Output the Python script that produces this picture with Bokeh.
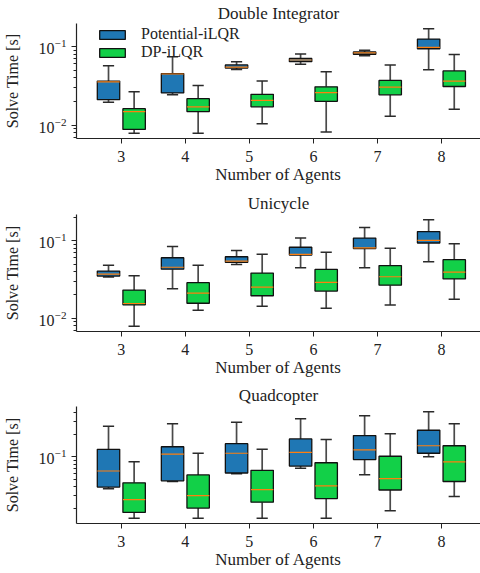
import math
from bokeh.plotting import figure
from bokeh.layouts import column
from bokeh.models import ColumnDataSource, Range1d, FixedTicker, LogTickFormatter, Legend, LegendItem
from bokeh.transform import dodge
from bokeh.embed import file_html
from bokeh.resources import INLINE

# ---------------- data ----------------
agents = [3, 4, 5, 6, 7, 8]
agent_labels = ["3", "4", "5", "6", "7", "8"]
series_names = ["Potential-iLQR", "DP-iLQR"]
panel_titles = ["Double Integrator", "Unicycle", "Quadcopter"]
y_major_ticks = [0.01, 0.1]

# Double Integrator
di_pot_lo = [0.0195, 0.0243, 0.0511, 0.0595, 0.0760, 0.0507]
di_pot_q1 = [0.0211, 0.0257, 0.0531, 0.0641, 0.0797, 0.0936]
di_pot_med = [0.0355, 0.0447, 0.0547, 0.0673, 0.0828, 0.0972]
di_pot_q3 = [0.0364, 0.0453, 0.0583, 0.0705, 0.0852, 0.1240]
di_pot_hi = [0.0568, 0.0740, 0.0641, 0.0805, 0.0893, 0.1680]
di_dp_lo = [0.0079, 0.0079, 0.0104, 0.0082, 0.0130, 0.0159]
di_dp_q1 = [0.00885, 0.0149, 0.0171, 0.0201, 0.0243, 0.0310]
di_dp_med = [0.0149, 0.0171, 0.0207, 0.0259, 0.0305, 0.0364]
di_dp_q3 = [0.0162, 0.0217, 0.0247, 0.0307, 0.0371, 0.0489]
di_dp_hi = [0.0267, 0.0319, 0.0364, 0.0479, 0.0583, 0.0790]

# Unicycle
uni_pot_lo = [0.0340, 0.0240, 0.0492, 0.0447, 0.0447, 0.0537]
uni_pot_q1 = [0.0350, 0.0429, 0.0527, 0.0652, 0.0792, 0.0934]
uni_pot_med = [0.0371, 0.0455, 0.0547, 0.0665, 0.0807, 0.1010]
uni_pot_q3 = [0.0406, 0.0603, 0.0621, 0.0824, 0.1080, 0.1310]
uni_pot_hi = [0.0483, 0.0839, 0.0747, 0.1080, 0.1476, 0.1860]
uni_dp_lo = [0.0079, 0.0127, 0.0143, 0.0135, 0.0148, 0.0176]
uni_dp_q1 = [0.0149, 0.0156, 0.0195, 0.0224, 0.0267, 0.0321]
uni_dp_med = [0.0155, 0.0211, 0.0252, 0.0291, 0.0343, 0.0393]
uni_dp_q3 = [0.0231, 0.0288, 0.0382, 0.0426, 0.0478, 0.0569]
uni_dp_hi = [0.0354, 0.0483, 0.0670, 0.0712, 0.0800, 0.0916]

# Quadcopter
quad_pot_lo = [0.0370, 0.0464, 0.0593, 0.0699, 0.0575, 0.1000]
quad_pot_q1 = [0.0390, 0.0474, 0.0605, 0.0750, 0.0920, 0.1120]
quad_pot_med = [0.0644, 0.1086, 0.1120, 0.1150, 0.1240, 0.1415]
quad_pot_q3 = [0.1265, 0.1370, 0.1510, 0.1750, 0.1940, 0.2290]
quad_pot_hi = [0.2590, 0.2810, 0.2930, 0.3280, 0.3600, 0.4070]
quad_dp_lo = [0.0148, 0.0148, 0.0148, 0.0148, 0.0187, 0.0290]
quad_dp_q1 = [0.0177, 0.0203, 0.0244, 0.0273, 0.0356, 0.0464]
quad_dp_med = [0.0264, 0.0299, 0.0360, 0.0406, 0.0509, 0.0858]
quad_dp_q3 = [0.0446, 0.0570, 0.0658, 0.0832, 0.1020, 0.1415]
quad_dp_hi = [0.0858, 0.1120, 0.1265, 0.1720, 0.2050, 0.2810]

panels = [
    (panel_titles[0], [(di_pot_lo, di_pot_q1, di_pot_med, di_pot_q3, di_pot_hi),
                       (di_dp_lo, di_dp_q1, di_dp_med, di_dp_q3, di_dp_hi)]),
    (panel_titles[1], [(uni_pot_lo, uni_pot_q1, uni_pot_med, uni_pot_q3, uni_pot_hi),
                       (uni_dp_lo, uni_dp_q1, uni_dp_med, uni_dp_q3, uni_dp_hi)]),
    (panel_titles[2], [(quad_pot_lo, quad_pot_q1, quad_pot_med, quad_pot_q3, quad_pot_hi),
                       (quad_dp_lo, quad_dp_q1, quad_dp_med, quad_dp_q3, quad_dp_hi)]),
]

# ---------------- style ----------------
FONT = "Liberation Serif"
COLORS = ["#1f77b4", "#12d048"]
OFFSETS = [-0.2, 0.2]
BOX_W = 0.35
CAP_W = BOX_W / 2
tops = [23, 26, 26]
title_standoff = [1, 4, 4]
frame_h = [115, 117, 117]
bottoms = [50, 49, 49]
minor = [k * 10.0 ** e for e in (-3, -2, -1, 0) for k in range(2, 10)]


def make_panel(idx):
    title, series = panels[idx]
    allv = [v for s in series for arr in s for v in arr]
    llo, lhi = math.log10(min(allv)), math.log10(max(allv))
    m = 0.05 * (lhi - llo)
    p = figure(width=480, height=tops[idx] + frame_h[idx] + bottoms[idx],
               x_range=Range1d(2.30, 8.61),
               y_range=Range1d(10 ** (llo - m), 10 ** (lhi + m)),
               y_axis_type="log", output_backend="svg", toolbar_location=None,
               min_border_left=74, min_border_right=0, min_border_top=tops[idx],
               min_border_bottom=bottoms[idx])
    p.outline_line_color = None
    p.grid.visible = False
    p.title.text = title
    p.title.text_font = FONT
    p.title.text_font_size = "17px"
    p.title.text_font_style = "normal"
    p.title.align = "center"
    p.title.text_color = "#222222"
    p.title.standoff = title_standoff[idx]
    p.title.offset = 2

    renderers = []
    for si, (lo, q1, med, q3, hi) in enumerate(series):
        src = ColumnDataSource(dict(x=agents, lo=lo, q1=q1, med=med, q3=q3, hi=hi))
        off = OFFSETS[si]
        xc = dodge("x", off, range=p.x_range)
        p.segment(x0=xc, y0="q3", x1=xc, y1="hi", source=src, line_color="#4a4a4a", line_width=1.7)
        p.segment(x0=xc, y0="q1", x1=xc, y1="lo", source=src, line_color="#4a4a4a", line_width=1.7)
        p.segment(x0=dodge("x", off - CAP_W / 2, range=p.x_range), y0="hi",
                  x1=dodge("x", off + CAP_W / 2, range=p.x_range), y1="hi",
                  source=src, line_color="#2a2a2a", line_width=1.5)
        p.segment(x0=dodge("x", off - CAP_W / 2, range=p.x_range), y0="lo",
                  x1=dodge("x", off + CAP_W / 2, range=p.x_range), y1="lo",
                  source=src, line_color="#2a2a2a", line_width=1.5)
        r = p.vbar(x=xc, width=BOX_W, bottom="q1", top="q3", source=src,
                   fill_color=COLORS[si], line_color="#111111", line_width=1.3)
        p.segment(x0=dodge("x", off - BOX_W / 2, range=p.x_range), y0="med",
                  x1=dodge("x", off + BOX_W / 2, range=p.x_range), y1="med",
                  source=src, line_color="#ff7f0e", line_width=1.2)
        renderers.append(r)

    for ax in (p.xaxis[0], p.yaxis[0]):
        ax.axis_line_color = "#222222"
        ax.axis_line_width = 1.2
        ax.major_tick_line_color = "#222222"
        ax.minor_tick_line_color = "#222222"
        ax.major_tick_out = 5
        ax.major_tick_in = 0
        ax.minor_tick_out = 3
        ax.minor_tick_in = 0
        ax.major_label_text_font = FONT
        ax.major_label_text_font_size = "16px"
        ax.major_label_text_color = "#222222"
        ax.axis_label_text_font = FONT
        ax.axis_label_text_font_style = "normal"
        ax.axis_label_text_color = "#222222"

    p.xaxis.ticker = FixedTicker(ticks=agents)
    p.xaxis.major_label_overrides = {a: l for a, l in zip(agents, agent_labels)}
    p.xaxis.axis_label = "Number of Agents"
    p.xaxis.axis_label_text_font_size = "17px"
    p.xaxis.major_label_standoff = 7
    p.xaxis.axis_label_standoff = 0

    p.yaxis.ticker = FixedTicker(ticks=y_major_ticks, minor_ticks=minor)
    p.yaxis.formatter = LogTickFormatter()
    p.yaxis.axis_label = "Solve Time [s]"
    p.yaxis.axis_label_text_font_size = "16px"
    p.yaxis.major_label_standoff = 5
    p.yaxis.axis_label_standoff = 15

    if idx == 0:
        legend = Legend(items=[LegendItem(label=series_names[i], renderers=[renderers[i]]) for i in range(2)],
                        location=(20, frame_h[idx] - 38), orientation="vertical")
        legend.border_line_color = None
        legend.background_fill_alpha = 0
        legend.glyph_width = 32
        legend.glyph_height = 11
        legend.label_height = 18
        legend.label_standoff = 13
        legend.spacing = 0
        legend.padding = 0
        legend.margin = 0
        legend.label_text_font = FONT
        legend.label_text_font_size = "16px"
        legend.label_text_color = "#222222"
        p.add_layout(legend, "center")
    return p


figs = [make_panel(i) for i in range(3)]
layout = column(*figs, spacing=0)
open("out.html", "w").write(file_html(layout, INLINE))
